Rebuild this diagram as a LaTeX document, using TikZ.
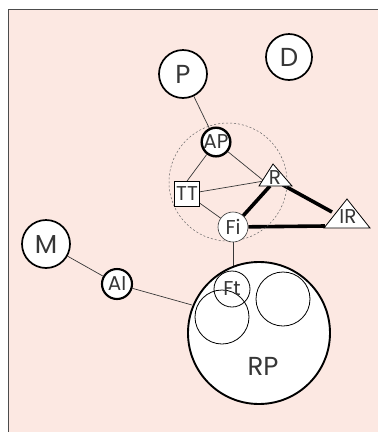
\documentclass[tikz,border=0pt]{standalone}
\usepackage{fontspec}
\setmainfont{Poppins}
\usetikzlibrary{backgrounds}
\definecolor{paper}{RGB}{252,232,226}
\definecolor{ink}{RGB}{55,55,55}
\tikzset{
  big/.style={circle, draw=black, fill=white, line width=1.7pt, minimum size=#1, inner sep=0pt, text=ink, font=\fontsize{26}{26}\selectfont},
  small/.style={circle, draw=black, fill=white, line width=2.1pt, minimum size=#1, inner sep=0pt, text=ink, font=\fontsize{20}{20}\selectfont},
  thinc/.style={circle, draw=black, line width=0.8pt, minimum size=#1, inner sep=0pt},
  lbl/.style={text=ink, inner sep=0pt, font=\fontsize{20}{20}\selectfont},
  link/.style={draw=ink, line width=0.7pt},
  bond/.style={draw=black, line width=3.6pt},
  tri/.style={draw=black, fill=white, line width=0.8pt, line join=miter},
}
\begin{document}
\begin{tikzpicture}[x=1pt, y=-1pt]
\useasboundingbox (0,0) rectangle (378,432);
\clip (0,0) rectangle (378,432);

% dashed grouping circle
\draw[dashed, dash pattern=on 2pt off 2pt, draw=black!60, line width=0.5pt] (228,182) circle (59);

% big circle with its inner circles
\node[big=142pt, line width=1.9pt] (RP) at (259,333) {};
\node[lbl, font=\fontsize{26}{26}\selectfont] (RPlab) at (263,366) {RP};
\node[thinc=54pt] (C1) at (222,317) {};
\node[thinc=54pt] (C2) at (283,299) {};
\node[thinc=36pt, lbl, draw=black, line width=0.8pt] (Ft) at (232,289) {Ft};

% outer nodes
\node[big=48pt] (P) at (183,74) {P};
\node[big=46pt] (D) at (289,57) {D};
\node[big=48pt] (M) at (46,244) {M};
\node[small=28pt, line width=2.4pt] (AP) at (216,142) {AP};
\node[small=30pt] (AI) at (117,284) {AI};
\node[small=30pt, line width=0.6pt, draw=black!80] (Fi) at (233,227) {Fi};
\node[draw=black, fill=white, line width=0.8pt, minimum size=25pt, inner sep=0pt, lbl] (TT) at (187,194) {TT};

% triangles
\draw[tri] (273,164) -- (292,186) -- (259,186) -- cycle;
\node[lbl] (R) at (275,178) {R};
\draw[tri] (347,199) -- (370,228) -- (324,228) -- cycle;
\node[lbl] (IR) at (348,217) {IR};

\coordinate (Rleft) at (264,181);
\coordinate (Rbase) at (270,186);
\coordinate (Rright) at (283,185);
\coordinate (IRleft) at (332,212);
\coordinate (IRbase) at (325,226);
\coordinate (RPtop) at (233,267);
\coordinate (RPleft) at (192,305);

\begin{scope}[on background layer]
  \fill[white] (0,0) rectangle (378,432);
  % framed panel
  \draw[fill=paper, draw=black!70, line width=1pt] (8.5,9.5) rectangle (400,460);
  \draw[link] (P) -- (AP);
  \draw[link] (AP) -- (TT.north);
  \draw[link] (AP) -- (Rleft);
  \draw[link] (TT) -- (Rleft);
  \draw[link] (TT) -- (Fi);
  \draw[link] (Fi) -- (RPtop);
  \draw[link] (M) -- (AI);
  \draw[link] (AI) -- (RPleft);
  \draw[bond] (Fi) -- (Rbase);
  \draw[bond] (Rright) -- (IRleft);
  \draw[bond] (Fi) -- (IRbase);
\end{scope}
\end{tikzpicture}
\end{document}
